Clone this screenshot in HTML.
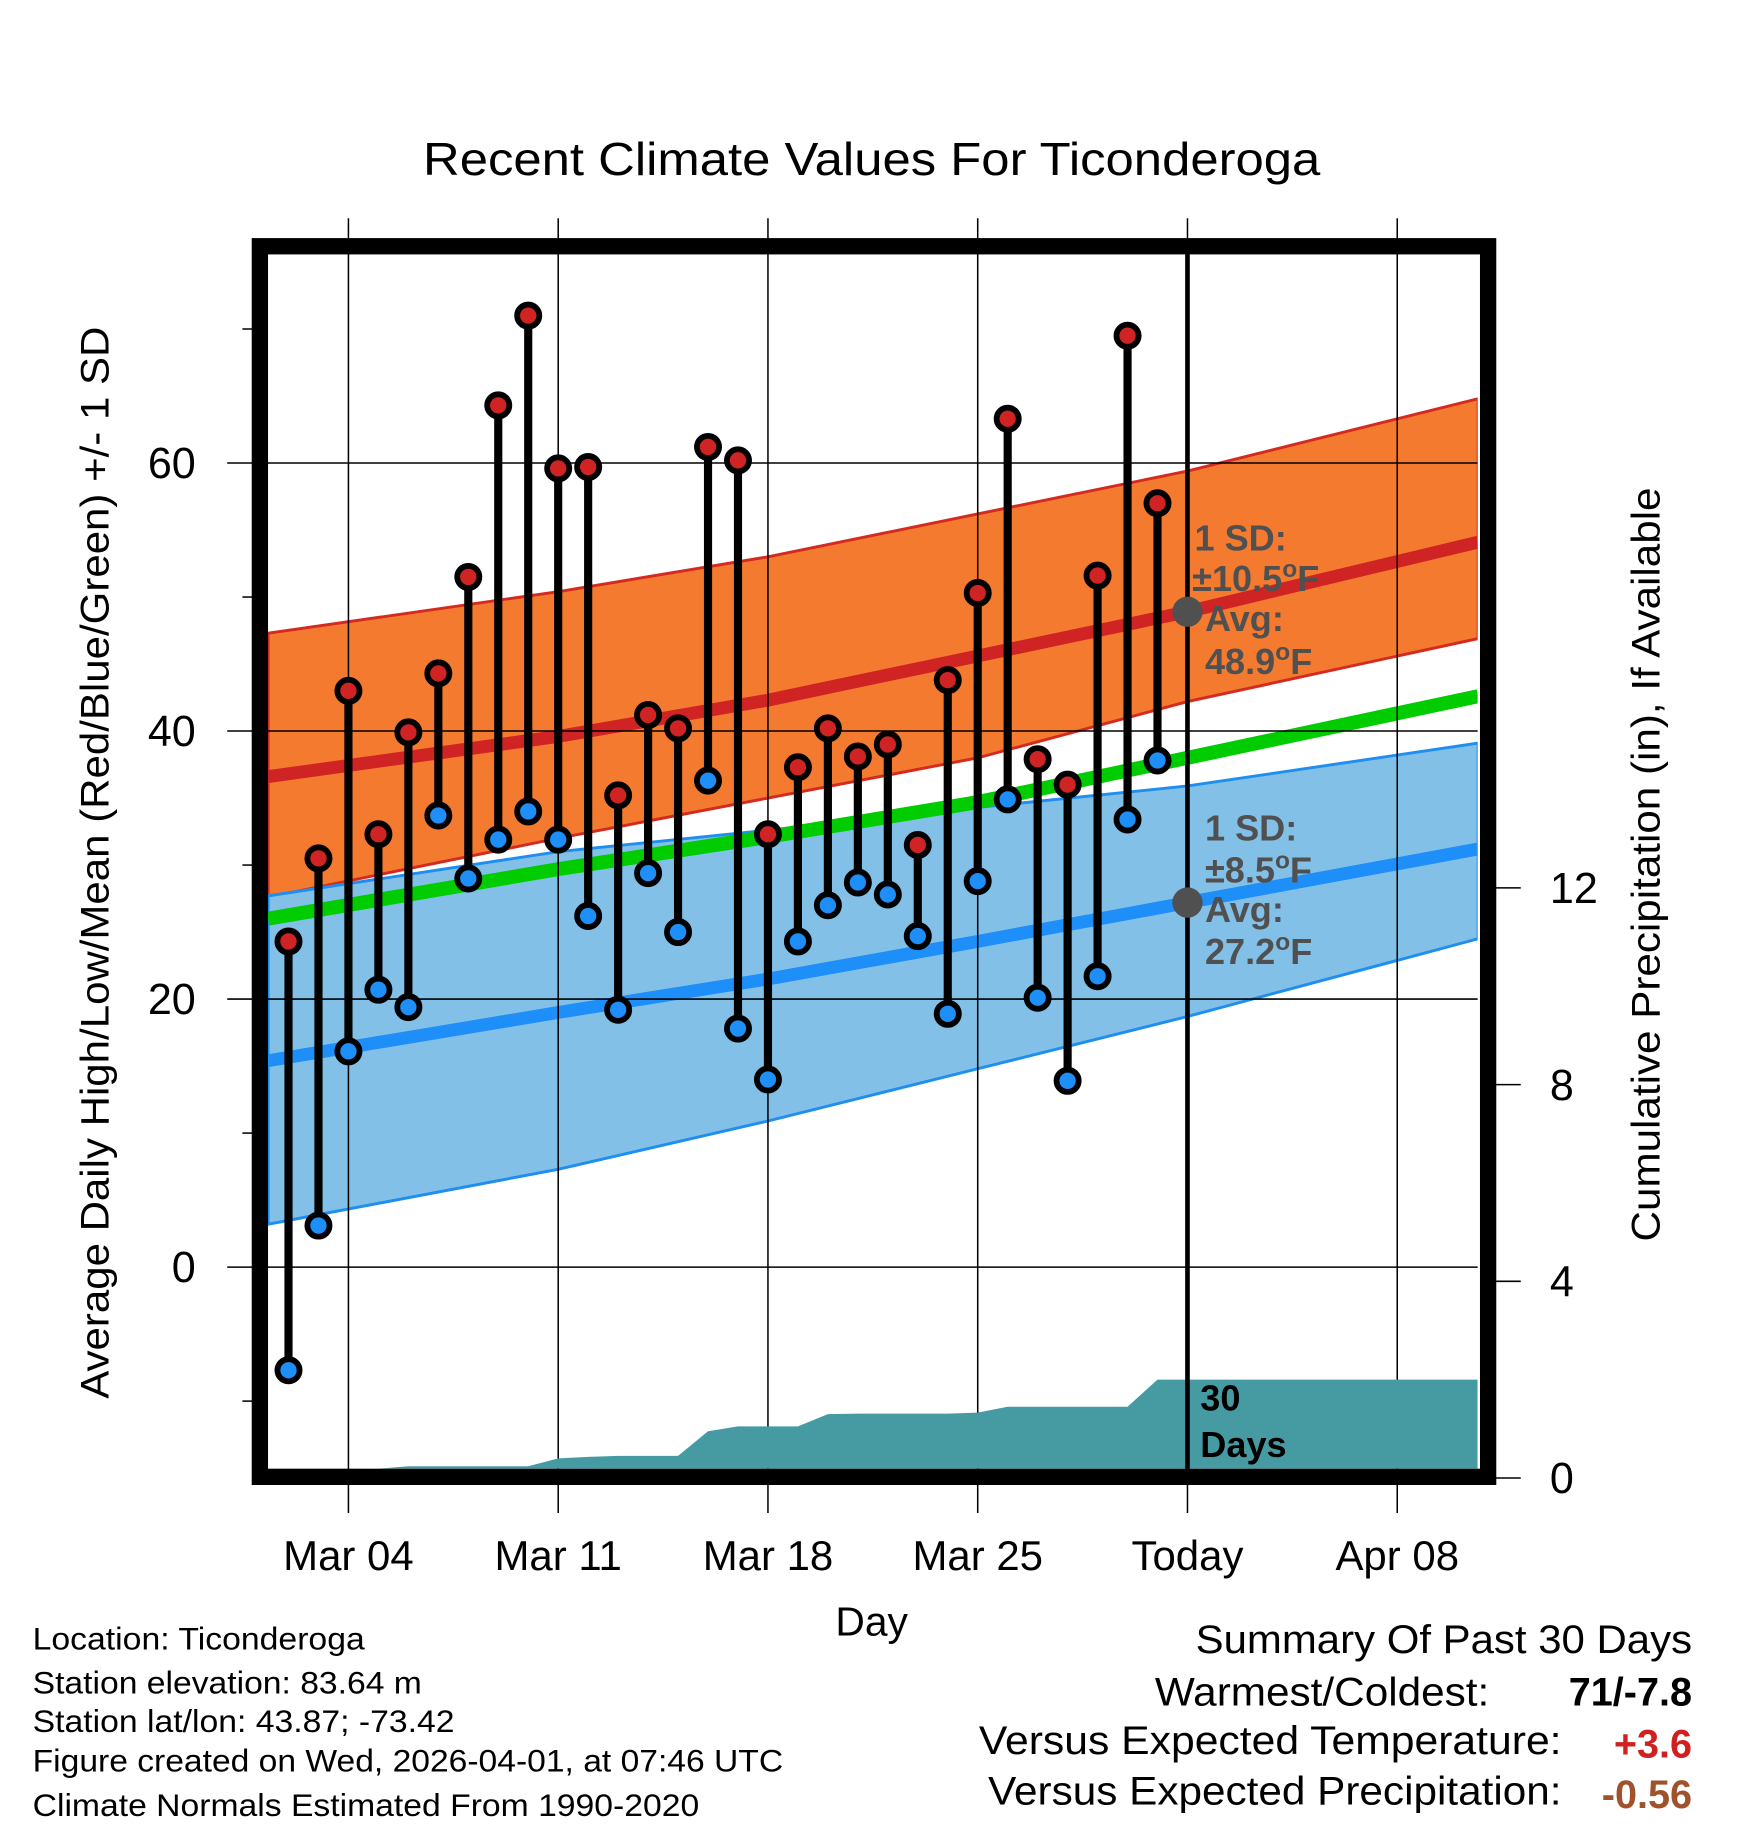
<!DOCTYPE html>
<html><head><meta charset="utf-8"><style>html,body{margin:0;padding:0;background:#fff}svg{display:block}text{font-family:"Liberation Sans",sans-serif}</style></head>
<body>
<svg id="chart" width="1748" height="1828" viewBox="0 0 1500 1568" xmlns="http://www.w3.org/2000/svg">
<rect width="1500" height="1568" fill="#fff"/>
<text x="363" y="150" font-size="40" textLength="770" lengthAdjust="spacingAndGlyphs">Recent Climate Values For Ticonderoga</text>
<g id="bands"></g>
<g id="grid"></g>
<g id="precip"></g>
<g id="marks"></g>
<g id="overlay"></g>
<text x="748" y="1403" font-size="35" text-anchor="middle">Day</text>
<text transform="translate(93,1200) rotate(-90)" font-size="34" textLength="920" lengthAdjust="spacingAndGlyphs">Average Daily High/Low/Mean (Red/Blue/Green) +/- 1 SD</text>
<text transform="translate(1424,1065) rotate(-90)" font-size="34" textLength="647" lengthAdjust="spacingAndGlyphs">Cumulative Precipitation (in), If Available</text>
<g font-size="27" lengthAdjust="spacingAndGlyphs">
<text x="28" y="1415" textLength="285" lengthAdjust="spacingAndGlyphs">Location: Ticonderoga</text>
<text x="28" y="1453" textLength="334" lengthAdjust="spacingAndGlyphs">Station elevation: 83.64 m</text>
<text x="28" y="1486" textLength="362" lengthAdjust="spacingAndGlyphs">Station lat/lon: 43.87; -73.42</text>
<text x="28" y="1520" textLength="644" lengthAdjust="spacingAndGlyphs">Figure created on Wed, 2026-04-01, at 07:46 UTC</text>
<text x="28" y="1558" textLength="572" lengthAdjust="spacingAndGlyphs">Climate Normals Estimated From 1990-2020</text>
</g>
<g font-size="34">
<text x="1026" y="1418" textLength="426" lengthAdjust="spacingAndGlyphs">Summary Of Past 30 Days</text>
<text x="991" y="1463" textLength="287" lengthAdjust="spacingAndGlyphs">Warmest/Coldest:</text>
<text x="1452" y="1463" text-anchor="end" font-weight="bold">71/-7.8</text>
<text x="840" y="1505" textLength="500" lengthAdjust="spacingAndGlyphs">Versus Expected Temperature:</text>
<text x="1452" y="1508" text-anchor="end" font-weight="bold" fill="#d02020">+3.6</text>
<text x="848" y="1548" textLength="492" lengthAdjust="spacingAndGlyphs">Versus Expected Precipitation:</text>
<text x="1452" y="1551" text-anchor="end" font-weight="bold" fill="#a0522d">-0.56</text>
</g>
</svg>
<script>
const highs=[24.3,30.5,43,32.3,39.9,44.3,51.5,64.3,71,59.6,59.7,35.2,41.2,40.2,61.2,60.2,32.3,37.3,40.2,38.1,39,31.5,43.8,50.3,63.3,37.9,36,51.6,69.5,57];
const lows=[-7.7,3.1,16.1,20.7,19.4,33.7,29,31.9,34,31.9,26.2,19.2,29.4,25,36.3,17.8,14,24.3,27,28.7,27.8,24.7,18.9,28.8,34.9,20.1,13.9,21.7,33.4,37.8];
const precip=[0.15,0.17,0.18,0.19,0.24,0.24,0.24,0.24,0.24,0.4,0.43,0.45,0.45,0.45,0.95,1.05,1.05,1.05,1.3,1.31,1.31,1.31,1.31,1.33,1.45,1.45,1.45,1.45,1.45,2.0];
const normDays=[-2.68,7,14,21,28,37.7];
const redUpper=[47.3,50.4,53,56.2,59.4,64.8];
const redMean=[36.6,39.6,42.3,45.6,48.9,54.1];
const redLower=[27.6,32,35,38,42.2,46.9];
const greenMean=[26,29.7,32.1,34.7,38,42.6];
const blueUpper=[27.7,31,32.6,34.3,35.9,39.1];
const blueMean=[15.4,19,21.5,24.3,27.2,31.2];
const blueLower=[3.2,7.3,10.9,14.8,18.7,24.5];
const dateLabels=["Mar 04","Mar 11","Mar 18","Mar 25","Today","Apr 08"];
const yTicks=[0,20,40,60];
const yMinor=[-10,10,30,50,70];
const pTicks=[0,4,8,12];
const firstDay=-2;

const L=230,R=1268,T=218,B=1260;
const X=d=>299+d*180/7;
const Y=t=>1087-t*11.5;
const P=p=>1268-p*42.2;
const NS='http://www.w3.org/2000/svg';
function mk(tag,parent,attrs){const e=document.createElementNS(NS,tag);for(const k in attrs)e.setAttribute(k,attrs[k]);parent.appendChild(e);return e;}
const gB=document.getElementById('bands'),gG=document.getElementById('grid'),gP=document.getElementById('precip'),gM=document.getElementById('marks'),gO=document.getElementById('overlay');
const clip=mk('clipPath',gB,{id:'pc'});mk('rect',clip,{x:L,y:T,width:R-L,height:B-T});
function line(arr){return normDays.map((d,i)=>X(d).toFixed(1)+','+Y(arr[i]).toFixed(1)).join(' ');}
function band(up,lo){return normDays.map((d,i)=>X(d)+','+Y(up[i])).concat(normDays.slice().reverse().map((d,j)=>X(d)+','+Y(lo[normDays.length-1-j]))).join(' ');}
let e;
e=mk('polygon',gB,{points:band(redUpper,redLower),fill:'#f47a30',stroke:'#d42a20','stroke-width':2.5,'clip-path':'url(#pc)'});

e=mk('polygon',gB,{points:band(blueUpper,blueLower),fill:'#82c0e8',stroke:'#1e8ef0','stroke-width':2.5,'clip-path':'url(#pc)'});

e=mk('polyline',gB,{points:line(redMean),fill:'none',stroke:'#d02424','stroke-width':11,'clip-path':'url(#pc)'});

e=mk('polyline',gB,{points:line(blueMean),fill:'none',stroke:'#1e8ef8','stroke-width':11,'clip-path':'url(#pc)'});

e=mk('polyline',gB,{points:line(greenMean),fill:'none',stroke:'#00cc00','stroke-width':12,'clip-path':'url(#pc)'});

dateLabels.forEach((lab,i)=>{const x=X(i*7);
 e=mk('line',gG,{x1:x,y1:187,x2:x,y2:1298,stroke:'#000','stroke-width':1.3});
 
 e=mk('text',gG,{x:x,y:1347,'font-size':36,'text-anchor':'middle'});e.textContent=lab;
 });
yTicks.forEach(t=>{const y=Y(t);
 e=mk('line',gG,{x1:195,y1:y,x2:R,y2:y,stroke:'#000','stroke-width':1.3});
 
 e=mk('text',gG,{x:168,y:y+13,'font-size':37,'text-anchor':'end'});e.textContent=t;
 });
yMinor.forEach(t=>{e=mk('line',gG,{x1:208,y1:Y(t),x2:218,y2:Y(t),stroke:'#000','stroke-width':1.3});
 });
pTicks.forEach(p=>{const y=P(p);
 e=mk('line',gG,{x1:1282,y1:y,x2:1305,y2:y,stroke:'#000','stroke-width':1.3});
 
 e=mk('text',gG,{x:1330,y:y+13,'font-size':37});e.textContent=p;
 });
let pts=[L+','+B,L+','+P(precip[0])];
precip.forEach((p,i)=>pts.push(X(firstDay+i)+','+P(p)));
pts.push(R+','+P(precip[precip.length-1]),R+','+B);
e=mk('polygon',gP,{points:pts.join(' '),fill:'#469ba3','clip-path':'url(#pc)'});

highs.forEach((h,i)=>{const x=X(firstDay+i);
 e=mk('line',gM,{x1:x,y1:Y(h),x2:x,y2:Y(lows[i]),stroke:'#000','stroke-width':7});
 });
highs.forEach((h,i)=>{const x=X(firstDay+i);
 e=mk('circle',gM,{cx:x,cy:Y(h),r:9.5,fill:'#d02424',stroke:'#000','stroke-width':5});
 
 e=mk('circle',gM,{cx:x,cy:Y(lows[i]),r:9.5,fill:'#1e8ef8',stroke:'#000','stroke-width':5});
 });
const xt=X(28);
e=mk('line',gO,{x1:xt,y1:T,x2:xt,y2:B,stroke:'#000','stroke-width':4});

e=mk('circle',gO,{cx:xt,cy:Y(redMean[4]),r:13,fill:'#505050'});

e=mk('circle',gO,{cx:xt,cy:Y(blueMean[4]),r:13,fill:'#505050'});

function ann(x,y,txt,name,col){const t=mk('text',gO,{x:x,y:y,'font-size':31,'font-weight':'bold',fill:col||'#505050'});t.innerHTML=txt;}
ann(1025,472,'1 SD:','high-sd-label');
ann(1023,507,'±10.5<tspan dy="-12" font-size="21">o</tspan><tspan dy="12">F</tspan>','high-sd-value');
ann(1034,541,'Avg:','high-avg-label');
ann(1034,578,'48.9<tspan dy="-12" font-size="21">o</tspan><tspan dy="12">F</tspan>','high-avg-value');
ann(1034,721,'1 SD:','low-sd-label');
ann(1034,757,'±8.5<tspan dy="-12" font-size="21">o</tspan><tspan dy="12">F</tspan>','low-sd-value');
ann(1034,791,'Avg:','low-avg-label');
ann(1034,827,'27.2<tspan dy="-12" font-size="21">o</tspan><tspan dy="12">F</tspan>','low-avg-value');
ann(1030,1210,'30','precip-days-label','#000');
ann(1030,1250,'Days','precip-days-label2','#000');
e=mk('rect',gO,{x:223,y:211,width:1054,height:1056,fill:'none',stroke:'#000','stroke-width':14});

</script>
</body></html>
